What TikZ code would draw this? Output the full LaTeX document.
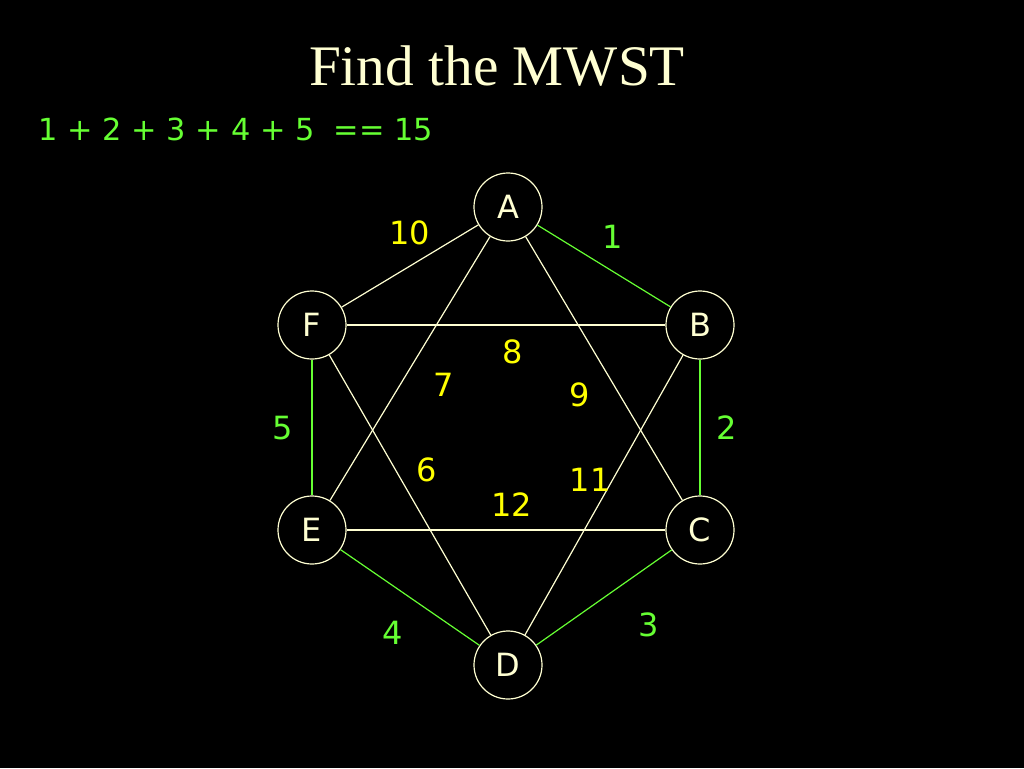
\documentclass[tikz,border=0pt]{standalone}
\usepackage{fontspec}
\setmainfont{Liberation Serif}
\newfontfamily\labelfont{DejaVu Sans}
\usetikzlibrary{positioning}
\definecolor{cream}{RGB}{255,255,210}
\definecolor{mstgreen}{RGB}{102,255,51}
\definecolor{wyellow}{RGB}{255,255,0}

\begin{document}
\begin{tikzpicture}[x=0.75pt,y=-0.75pt,
  vertex/.style={circle,draw=cream,line width=0.9pt,minimum size=51pt,inner sep=0pt,text=cream,font=\labelfont\fontsize{24}{24}\selectfont},
  edge/.style={draw=cream,line width=0.9pt},
  tree/.style={draw=mstgreen,line width=0.9pt},
  weight/.style={text=wyellow,font=\labelfont\fontsize{24}{24}\selectfont},
  tweight/.style={text=mstgreen,font=\labelfont\fontsize{24}{24}\selectfont}]

\fill[black] (0,0) rectangle (1024,768);
\useasboundingbox (0,0) rectangle (1024,768);

\node[text=cream,font=\fontsize{43}{43}\selectfont] (title) at (497,66) {Find the MWST};
\node[text=mstgreen,font=\labelfont\fontsize{22.8}{22.8}\selectfont,anchor=west] (sum) at (34,129) {1 + 2 + 3 + 4 + 5~~== 15};

% vertices
\foreach \name / \x / \y in {A/508/207,B/700/325,C/700/530,D/508/665,E/312/530,F/312/325}
  \node[vertex] (\name) at (\x,\y) {\name};

% edges not in the tree
\draw[edge] (A) -- (F);
\draw[edge] (F) -- (B);
\draw[edge] (A) -- (E);
\draw[edge] (A) -- (C);
\draw[edge] (F) -- (D);
\draw[edge] (B) -- (D);
\draw[edge] (E) -- (C);

% tree edges
\draw[tree] (A) -- (B);
\draw[tree] (B) -- (C);
\draw[tree] (C) -- (D);
\draw[tree] (D) -- (E);
\draw[tree] (E) -- (F);

% weights
\node[weight] (w10) at (410,233) {10};
\node[weight] (w8) at (513,352) {8};
\node[weight] (w7) at (444,385) {7};
\node[weight] (w9) at (580,395) {9};
\node[weight] (w6) at (427,470) {6};
\node[weight] (w11) at (590,480) {11};
\node[weight] (w12) at (512,505) {12};
\node[tweight] (w1) at (613,237) {1};
\node[tweight] (w2) at (727,428) {2};
\node[tweight] (w3) at (649,625) {3};
\node[tweight] (w4) at (393,633) {4};
\node[tweight] (w5) at (283,428) {5};

\end{tikzpicture}
\end{document}
